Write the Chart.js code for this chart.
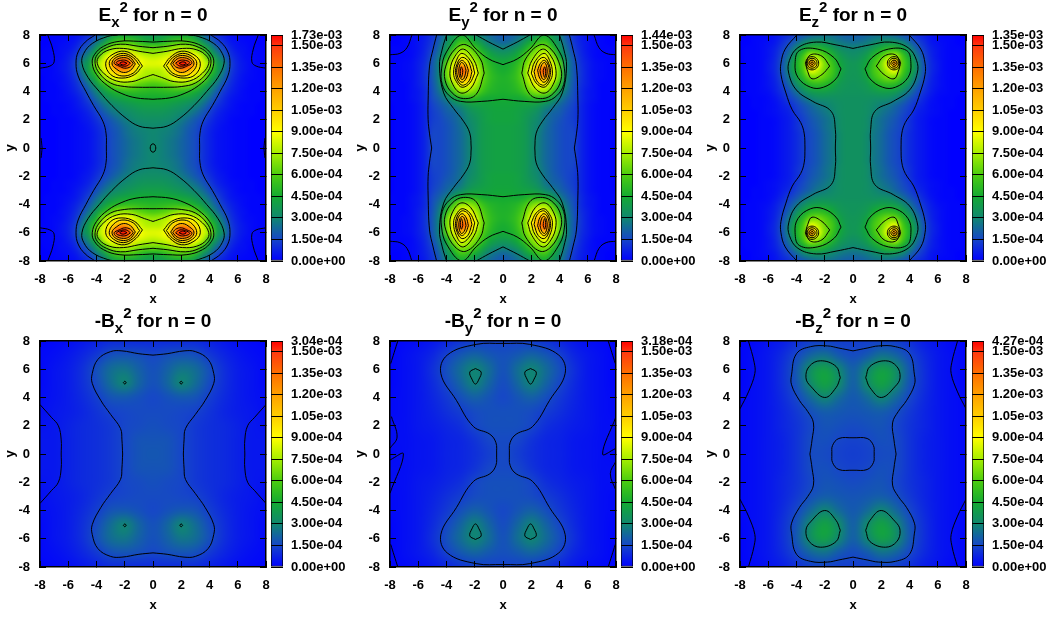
<!DOCTYPE html>
<html lang="en">
<head>
<meta charset="UTF-8">
<title>Field components for n = 0</title>
<script src="https://cdn.jsdelivr.net/npm/chart.js"></script>
<style>
    body { margin: 0; background: #fff; width: 1055px; height: 621px; position: relative; overflow: hidden; }
    canvas { position: absolute; }
    .title { position: absolute; width: 226px; text-align: center; font: bold 19px "Liberation Sans", sans-serif; color: #000; white-space: pre; }
    .title sub, .title sup { font-size: 15px; line-height: 0; position: relative; vertical-align: baseline; }
    .title sub { top: 6px; }
    .title sup { top: -9px; }
</style>
</head>
<body>
<script>
// tick labels
const axisTicks = [-8, -6, -4, -2, 0, 2, 4, 6, 8];
const barTicks = [0, 15, 30, 45, 60, 75, 90, 105, 120, 135, 150, 157.3];
const barLabels = ['0.00e+00', '1.50e-04', '3.00e-04', '4.50e-04', '6.00e-04', '7.50e-04', '9.00e-04', '1.05e-03', '1.20e-03', '1.35e-03', '1.50e-03'];
const barMax = 157.3;

// palette, value in units of 1e-5
const paletteValues = [0, 15, 30, 45, 60, 75, 90, 105, 120, 135, 150, 157.3];
const paletteColors = [[0, 0, 255], [22, 70, 200], [16, 135, 112], [20, 170, 50], [75, 205, 15], [165, 238, 0], [255, 255, 0], [255, 205, 0], [255, 160, 0], [255, 110, 0], [255, 55, 15], [255, 0, 0]];

// intensity, quarter panel x >= 0, y >= 0, rows from y = 8 down to y = 0
const gridEx = [
    [36, 37, 40, 42, 43, 42, 36, 26, 16, 10, 6, 3, 2, 1, 1, 0, 0],
    [46, 47, 52, 58, 60, 58, 50, 36, 26, 15, 10, 5, 3, 2, 1, 0, 0],
    [66, 66, 70, 76, 80, 78, 72, 55, 38, 24, 15, 8, 4, 3, 1, 1, 0],
    [78, 80, 84, 100, 110, 105, 90, 78, 50, 34, 22, 11, 6, 3, 2, 1, 1],
    [85, 86, 92, 125, 170, 150, 108, 85, 72, 40, 31, 14, 7, 4, 2, 1, 0],
    [78, 78, 84, 105, 125, 118, 98, 84, 60, 42, 27, 13, 7, 4, 2, 1, 1],
    [72, 74, 78, 88, 92, 90, 84, 72, 48, 35, 22, 11, 6, 3, 2, 1, 0],
    [58, 60, 63, 68, 72, 70, 62, 50, 38, 26, 16, 9, 5, 3, 1, 1, 0],
    [50, 51, 52, 53, 52, 50, 46, 38, 29, 20, 12, 7, 4, 2, 1, 1, 0],
    [45, 45, 45, 44, 42, 40, 36, 30, 23, 15, 9, 5, 3, 2, 1, 1, 0],
    [40, 40, 39, 37, 35, 32, 29, 24, 17, 11, 7, 4, 2, 1, 1, 0, 0],
    [36, 36, 35, 33, 31, 28, 24, 19, 13, 8, 5, 3, 2, 1, 1, 0, 0],
    [33, 33, 32, 30, 27, 23, 19, 15, 10, 6, 4, 2, 1, 1, 0, 0, 0],
    [31, 30, 29, 27, 24, 20, 17, 12, 8, 5, 3, 2, 1, 1, 0, 0, 0],
    [30, 29, 28, 26, 23, 19, 16, 11, 7, 4, 3, 2, 1, 1, 0, 0, 0],
    [30, 29, 27, 25, 22, 19, 16, 11, 7, 4, 3, 2, 1, 1, 0, 0, 0],
    [31, 29, 27, 25, 22, 19, 16, 11, 7, 4, 3, 2, 1, 1, 0, 0, 0]
];
const gridEy = [
    [18, 20, 23, 28, 32, 40, 45, 36, 29, 18, 11, 6, 3, 2, 1, 0, 0],
    [22, 24, 28, 36, 45, 54, 56, 44, 32, 21, 12, 7, 4, 2, 1, 0, 0],
    [30, 32, 37, 46, 58, 68, 72, 55, 38, 24, 14, 8, 4, 2, 1, 1, 1],
    [38, 40, 45, 56, 68, 80, 88, 72, 45, 27, 17, 9, 5, 2, 1, 1, 1],
    [44, 46, 51, 62, 78, 95, 110, 84, 62, 30, 19, 10, 6, 3, 2, 1, 1],
    [46, 48, 54, 66, 90, 125, 144, 90, 65, 30, 19, 11, 6, 3, 2, 1, 1],
    [48, 50, 55, 66, 88, 112, 120, 88, 63, 30, 19, 11, 6, 3, 2, 1, 1],
    [48, 49, 53, 62, 78, 92, 92, 72, 52, 28, 18, 10, 6, 3, 1, 1, 1],
    [47, 48, 50, 56, 66, 72, 72, 58, 38, 25, 17, 9, 5, 3, 1, 1, 1],
    [45, 45, 44, 46, 50, 50, 47, 38, 28, 21, 16, 9, 5, 3, 1, 1, 1],
    [43, 43, 42, 41, 40, 37, 31, 27, 22, 18, 14, 8, 4, 2, 1, 1, 0],
    [42, 42, 41, 39, 36, 32, 26, 22, 20, 16, 13, 8, 4, 2, 1, 1, 0],
    [42, 42, 41, 38, 34, 30, 25, 21, 18, 15, 13, 8, 4, 2, 1, 1, 0],
    [41, 41, 40, 38, 33, 29, 24, 20, 17, 15, 14, 8, 4, 2, 1, 1, 0],
    [41, 41, 40, 38, 33, 28, 23, 20, 17, 15, 15, 8, 4, 2, 1, 1, 0],
    [41, 41, 40, 38, 33, 28, 23, 20, 17, 15, 15, 8, 4, 2, 1, 1, 0],
    [41, 41, 40, 38, 33, 28, 23, 20, 17, 15, 15, 8, 4, 2, 1, 1, 0]
];
const gridEz = [
    [20, 20, 22, 24, 25, 24, 22, 18, 15, 10, 7, 4, 2, 1, 1, 0, 0],
    [24, 25, 27, 30, 33, 35, 34, 29, 22, 15, 10, 5, 3, 2, 1, 0, 0],
    [30, 31, 34, 40, 47, 52, 52, 44, 32, 21, 13, 7, 4, 2, 1, 1, 0],
    [33, 35, 40, 50, 60, 72, 78, 58, 42, 26, 16, 8, 4, 2, 1, 1, 0],
    [36, 38, 44, 56, 68, 88, 130, 62, 47, 31, 18, 9, 5, 2, 1, 1, 0],
    [36, 38, 46, 58, 66, 80, 88, 60, 46, 31, 18, 9, 5, 2, 1, 1, 0],
    [36, 37, 42, 54, 62, 68, 66, 52, 40, 27, 16, 8, 4, 2, 1, 1, 0],
    [35, 36, 38, 45, 50, 52, 50, 42, 32, 22, 13, 7, 4, 2, 1, 1, 0],
    [35, 35, 36, 38, 40, 40, 38, 32, 25, 17, 11, 6, 3, 2, 1, 1, 0],
    [34, 34, 34, 33, 33, 32, 29, 24, 18, 13, 8, 4, 2, 1, 1, 0, 0],
    [34, 34, 33, 31, 28, 26, 22, 18, 14, 9, 6, 3, 2, 1, 1, 0, 0],
    [34, 34, 33, 29, 26, 23, 20, 16, 12, 7, 5, 3, 2, 1, 0, 0, 0],
    [34, 34, 32, 27, 24, 21, 18, 14, 10, 6, 4, 2, 1, 1, 0, 0, 0],
    [34, 34, 32, 27, 24, 20, 17, 14, 10, 6, 4, 2, 1, 1, 0, 0, 0],
    [34, 34, 31, 26, 23, 19, 16, 13, 9, 6, 4, 2, 1, 1, 0, 0, 0],
    [34, 34, 31, 26, 23, 19, 16, 13, 9, 6, 4, 2, 1, 1, 0, 0, 0],
    [34, 34, 31, 26, 23, 19, 16, 13, 9, 6, 4, 2, 1, 1, 0, 0, 0]
];
const gridBx = [
    [9, 9, 9, 9, 7, 5, 3, 2, 1],
    [15, 17, 18, 17, 12, 8, 5, 3, 2],
    [17, 21, 26, 24, 17, 10, 6, 4, 2],
    [17, 22, 30, 24, 16, 10, 6, 4, 2],
    [15, 17, 19, 18, 13, 9, 6, 4, 3],
    [16, 16, 15, 14, 11, 8, 6, 5, 3],
    [17, 16, 15, 12, 10, 9, 7, 5, 4],
    [18, 18, 15, 12, 10, 9, 7, 5, 5],
    [19, 18, 15, 12, 10, 9, 7, 5, 5]
];
const gridBy = [
    [14, 14, 13, 11, 8, 5, 3, 2, 1],
    [17, 19, 22, 19, 14, 8, 5, 3, 1],
    [17, 24, 30, 24, 17, 10, 5, 3, 1],
    [16, 22, 29, 22, 15, 9, 5, 3, 1],
    [15, 18, 21, 17, 12, 8, 5, 3, 2],
    [17, 17, 16, 13, 10, 7, 5, 3, 2],
    [17, 17, 15, 10, 8, 6, 5, 3, 3],
    [16, 15, 11, 8, 7, 5, 4, 3, 3],
    [16, 13, 10, 8, 7, 5, 4, 3, 2]
];
const gridBz = [
    [13, 13, 14, 13, 10, 6, 4, 2, 1],
    [16, 19, 25, 22, 15, 9, 5, 3, 1],
    [20, 30, 41, 34, 19, 10, 5, 3, 1],
    [20, 32, 42, 32, 18, 10, 5, 3, 1],
    [19, 23, 30, 23, 15, 9, 5, 3, 2],
    [18, 19, 20, 17, 12, 8, 5, 3, 2],
    [16, 17, 18, 15, 11, 8, 5, 3, 2],
    [14, 15, 17, 16, 11, 7, 5, 3, 2],
    [13, 14, 16, 16, 11, 7, 5, 3, 2]
];

// contour lines, quarter panel, drawn in all four quadrants
const linesEx = [
    [[3.3, 0], [3.32, 1], [3.55, 1.9], [4.2, 3], [4.75, 4], [5.3, 5.1], [5.45, 6], [5.3, 6.8], [4.8, 7.5], [4.1, 8]],
    [[0, 1.4], [1, 1.55], [1.9, 2.1], [2.9, 3], [3.8, 4], [4.6, 5], [5.03, 6], [4.9, 6.7], [4.3, 7.4], [3.2, 7.9], [2.5, 8]],
    [[0, 3.45], [1.2, 3.55], [2.2, 3.85], [3.2, 4.4], [4, 5.2], [4.3, 6], [4.15, 6.6], [3.5, 7.2], [2.4, 7.55], [1, 7.55], [0, 7.5]],
    [[0, 4.3], [1, 4.3], [2, 4.35], [3, 4.6], [3.8, 5.3], [4.1, 6], [3.95, 6.6], [3.3, 7.1], [2.3, 7.35], [1, 7.2], [0, 7.1]],
    [[0, 5.2], [0.6, 5], [1.5, 4.7], [2.6, 4.75], [3.5, 5.3], [3.95, 6], [3.8, 6.5], [3.1, 6.95], [2.1, 7.05], [1, 6.85], [0, 6.7]],
    [[0.75, 5.8], [1.2, 6.4], [2, 6.85], [2.9, 6.6], [3.35, 6], [3, 5.2], [2.2, 4.95], [1.3, 5.2], [0.75, 5.8]],
    [[0.95, 5.85], [1.4, 6.4], [2.1, 6.7], [2.8, 6.45], [3.1, 6], [2.8, 5.4], [2.2, 5.1], [1.4, 5.3], [0.95, 5.85]],
    [[1.25, 5.95], [1.6, 6.4], [2.1, 6.55], [2.7, 6.35], [2.9, 5.95], [2.6, 5.6], [2.1, 5.35], [1.6, 5.5], [1.25, 5.95]],
    [[1.4, 6], [1.7, 6.3], [2.1, 6.4], [2.6, 6.25], [2.75, 6], [2.4, 5.8], [2, 5.65], [1.6, 5.75], [1.4, 6]],
    [[1.6, 6], [1.9, 6.2], [2.3, 6.2], [2.6, 6.05], [2.3, 5.85], [1.9, 5.8], [1.6, 6]],
    [[1.85, 6], [2.1, 6.1], [2.35, 6], [2.1, 5.88], [1.85, 6]],
    [[0.2, 0], [0.14, 0.22], [0, 0.3]],
    [[7.45, 8], [7.1, 7], [7, 6.1], [7.3, 5.8], [8, 5.65]],
    [[7.92, 0.7], [7.85, 0]]
];
const linesEy = [
    [[8, 6.6], [7.3, 6.7], [6.8, 7.1], [6.45, 8]],
    [[5.05, 0], [5.2, 1], [5.3, 2], [5.3, 3.4], [5.2, 5.8], [4.95, 7], [4.7, 8]],
    [[2.25, 0], [2.35, 1.05], [2.8, 1.9], [3.5, 2.8], [4.2, 3.9], [4.5, 5.8], [4.3, 7], [4, 8]],
    [[0, 7], [1, 7.5], [1.9, 8]],
    [[0, 3.45], [1.5, 3.3], [3, 3.3], [3.8, 3.7], [4.3, 4.5], [4.35, 5.6], [4, 6.8], [2.9, 8], [1.9, 7], [1, 6.3], [0, 5.9]],
    [[1.33, 5.3], [1.6, 6.3], [2.6, 7.3], [3.4, 7], [4.05, 5.8], [4.1, 4.8], [3.6, 3.9], [2.8, 3.5], [1.9, 3.8], [1.33, 5.3]],
    [[1.75, 5.3], [2.05, 6.2], [2.8, 7], [3.4, 6.5], [3.75, 5.5], [3.6, 4.6], [3, 3.9], [2.3, 4.2], [1.75, 5.3]],
    [[2, 5.3], [2.25, 6.1], [2.9, 6.7], [3.3, 6.2], [3.5, 5.3], [3.3, 4.7], [2.9, 4.3], [2.35, 4.6], [2, 5.3]],
    [[2.2, 5.4], [2.5, 6.2], [2.95, 6.4], [3.3, 5.8], [3.35, 5.2], [3.1, 4.6], [2.8, 4.45], [2.4, 4.75], [2.2, 5.4]],
    [[2.45, 5.5], [2.65, 6], [2.95, 6.2], [3.25, 5.7], [3.2, 5], [2.9, 4.65], [2.6, 4.95], [2.45, 5.5]],
    [[2.62, 5.5], [2.75, 5.9], [2.95, 6.05], [3.12, 5.6], [3.05, 5], [2.85, 4.85], [2.7, 5.1], [2.62, 5.5]],
    [[2.85, 5.5], [2.95, 5.75], [3.02, 5.4], [2.95, 5], [2.87, 5.2], [2.85, 5.5]]
];
const linesEz = [
    [[3.4, 0], [3.45, 1], [3.7, 1.8], [4.3, 2.7], [4.75, 3.9], [5.1, 5.2], [5.1, 6], [4.8, 7], [3.98, 8]],
    [[1.25, 0], [1.25, 1.3], [1.55, 2.6], [2.85, 3.3], [4, 4.1], [4.55, 5.3], [4.5, 6.2], [3.9, 7.1], [2.6, 7.5], [1.2, 7.3], [0, 7.05]],
    [[0.85, 5.6], [1.35, 6.4], [2.5, 7], [3.8, 6.9], [4.1, 6], [3.9, 5], [3, 4.3], [2.1, 4.3], [1.2, 4.9], [0.85, 5.6]],
    [[1.65, 5.8], [2.2, 6.5], [3, 6.6], [3.3, 6], [3.2, 5.4], [2.9, 4.9], [2.2, 5.2], [1.65, 5.8]],
    [[3.37, 6], [3.23, 6.33], [2.9, 6.47], [2.57, 6.33], [2.43, 6], [2.57, 5.67], [2.9, 5.53], [3.23, 5.67], [3.37, 6]],
    [[3.25, 6], [3.15, 6.25], [2.9, 6.35], [2.65, 6.25], [2.55, 6], [2.65, 5.75], [2.9, 5.65], [3.15, 5.75], [3.25, 6]],
    [[3.12, 6], [3.05, 6.15], [2.9, 6.22], [2.75, 6.15], [2.68, 6], [2.75, 5.85], [2.9, 5.78], [3.05, 5.85], [3.12, 6]],
    [[3, 6], [2.9, 6.1], [2.8, 6], [2.9, 5.9], [3, 6]]
];
const linesBx = [
    [[2.15, 0], [2.2, 1], [2.3, 1.8], [3, 2.8], [3.7, 3.8], [4.3, 5], [4.3, 5.7], [3.9, 6.7], [3, 7.25], [2.2, 7.3], [1, 7.1], [0, 7]],
    [[2.1, 5.05], [2, 5.15], [1.9, 5.05], [2, 4.95], [2.1, 5.05]],
    [[8, 3.5], [7.2, 2.6], [6.7, 2], [6.5, 1], [6.5, 0]]
];
const linesBy = [
    [[0.45, 0], [0.5, 0.8], [0.93, 1.4], [2.1, 1.95], [3.3, 3.8], [4.4, 5.7], [3.95, 7], [1.9, 7.76], [0, 7.83]],
    [[1.95, 6.05], [2.35, 5.8], [2.2, 5.3], [1.95, 4.95], [1.7, 5.3], [1.55, 5.8], [1.95, 6.05]],
    [[7.45, 8], [7.7, 7.2], [7.95, 6.4]]
];
const linesBz = [
    [[3.05, 0], [2.9, 1], [2.8, 2.2], [3.2, 3], [3.8, 3.8], [4.35, 4.9], [4.35, 5.6], [4, 7.1], [3, 7.6], [1.8, 7.65], [1, 7.5], [0, 7.3]],
    [[1.5, 0], [1.45, 0.6], [1, 1.1], [0, 1.15]],
    [[0.9, 5.4], [1.2, 6.2], [2.3, 6.6], [3.1, 6.2], [3.33, 5.4], [3, 4.8], [2, 4], [1.2, 4.7], [0.9, 5.4]],
    [[7.4, 8], [7, 6.5], [6.95, 5.7], [7.4, 4.4], [8, 3.2]]
];
// the By panel is not mirror symmetric at its side edges
const edgeLinesBy = [
    [[-7.9, 2.65], [-7.5, 1.2], [-8, 0.4]],
    [[-8, -0.42], [-7.05, 0], [-8, -2.78]],
    [[8, 2.65], [7.05, 0], [8, 0.4]],
    [[8, -0.5], [7.6, -1.4], [8, -2.6]]
];

const panelNames = ['Ex', 'Ey', 'Ez', 'Bx', 'By', 'Bz'];
const panelTitles = [['E', 'x'], ['E', 'y'], ['E', 'z'], ['-B', 'x'], ['-B', 'y'], ['-B', 'z']];
const panelGrids = [gridEx, gridEy, gridEz, gridBx, gridBy, gridBz];
const panelLines = [linesEx, linesEy, linesEz, linesBx, linesBy, linesBz];
const panelEdgeLines = [[], [], [], [], edgeLinesBy, []];
const topLabels = ['1.73e-03', '1.44e-03', '1.35e-03', '3.04e-04', '3.18e-04', '4.27e-04'];

const columnLeft = [0, 350, 700];
const rowTop = [25, 331];
const font = { family: '"Liberation Sans", sans-serif', size: 13, weight: 'bold' };

function colorFor(v) {
    let i = 0;
    while (i < paletteValues.length - 2 && v > paletteValues[i + 1]) i++;
    let t = (v - paletteValues[i]) / (paletteValues[i + 1] - paletteValues[i]);
    t = Math.min(1, Math.max(0, t));
    return paletteColors[i].map((c, k) => Math.round(c + (paletteColors[i + 1][k] - c) * t));
}

// paints the grid as one small image, stretched onto the scales
const heatPlugin = {
    id: 'heat',
    beforeDatasetsDraw(chart, args, opts) {
        let quarter = opts.grid;
        let n = quarter.length;
        let size = 2 * n - 1;
        let step = 8 / (n - 1);
        let img = document.createElement('canvas');
        img.width = size;
        img.height = size;
        let ictx = img.getContext('2d');
        let data = ictx.createImageData(size, size);
        for (let j = 0; j < size; j++) {
            for (let i = 0; i < size; i++) {
                let row = quarter[j < n ? j : size - 1 - j];
                let rgb = colorFor(row[Math.abs(i - (n - 1))]);
                let p = (j * size + i) * 4;
                data.data[p] = rgb[0];
                data.data[p + 1] = rgb[1];
                data.data[p + 2] = rgb[2];
                data.data[p + 3] = 255;
            }
        }
        ictx.putImageData(data, 0, 0);

        let { ctx, chartArea, scales } = chart;
        let left = scales.x.getPixelForValue(-8 - step / 2);
        let right = scales.x.getPixelForValue(8 + step / 2);
        let top = scales.y.getPixelForValue(8 + step / 2);
        let bottom = scales.y.getPixelForValue(-8 - step / 2);
        ctx.save();
        ctx.beginPath();
        ctx.rect(chartArea.left, chartArea.top, chartArea.width, chartArea.height);
        ctx.clip();
        ctx.imageSmoothingEnabled = true;
        ctx.imageSmoothingQuality = 'high';
        ctx.drawImage(img, left, top, right - left, bottom - top);
        ctx.restore();
    }
};

function lineDataset(points) {
    return {
        data: points.map(p => ({ x: p[0], y: p[1] })),
        showLine: true,
        borderColor: '#000',
        borderWidth: 1,
        tension: 0.4,
        pointRadius: 0
    };
}

function frameAxis(position, min, max, extra) {
    return Object.assign({
        type: 'linear',
        position: position,
        min: min,
        max: max,
        afterBuildTicks: s => { s.ticks = axisTicks.map(v => ({ value: v })); },
        grid: { drawOnChartArea: false, tickLength: -6, color: '#000', z: 1 },
        border: { display: true, color: '#000', width: 1.5, z: 1 },
        ticks: { display: false }
    }, extra);
}

function addCanvas(left, top, w, h) {
    let c = document.createElement('canvas');
    c.width = w;
    c.height = h;
    c.style.left = left + 'px';
    c.style.top = top + 'px';
    document.body.appendChild(c);
    return c;
}

panelNames.forEach((name, p) => {
    let left = columnLeft[p % 3];
    let top = rowTop[Math.floor(p / 3)];

    // contour lines
    let datasets = [];
    panelLines[p].forEach(line => {
        [[1, 1], [-1, 1], [1, -1], [-1, -1]].forEach(s => {
            datasets.push(lineDataset(line.map(q => [q[0] * s[0], q[1] * s[1]])));
        });
    });
    panelEdgeLines[p].forEach(line => datasets.push(lineDataset(line)));

    new Chart(addCanvas(left, top, 275, 285), {
        type: 'scatter',
        data: { datasets: datasets },
        plugins: [heatPlugin],
        options: {
            responsive: false,
            animation: false,
            events: [],
            layout: { padding: { top: 10, right: 9, left: 0, bottom: 0 } },
            plugins: { legend: { display: false }, tooltip: { enabled: false }, heat: { grid: panelGrids[p] } },
            scales: {
                x: frameAxis('bottom', -8, 8, {
                    ticks: { font: font, color: '#000', padding: 17, maxRotation: 0, autoSkip: false },
                    title: { display: true, text: 'x', font: font, color: '#000', padding: { top: 0, bottom: 3 } },
                    afterFit: s => { s.height = 49; s.paddingLeft = 0; s.paddingRight = 0; }
                }),
                y: frameAxis('left', -8, 8, {
                    ticks: { font: font, color: '#000', padding: 16, autoSkip: false },
                    title: { display: true, text: 'y', font: font, color: '#000', padding: { top: 3, bottom: 0 } },
                    afterFit: s => { s.width = 40; s.paddingTop = 0; s.paddingBottom = 0; }
                }),
                x2: frameAxis('top', -8, 8, { afterFit: s => { s.height = 0; } }),
                y2: frameAxis('right', -8, 8, { afterFit: s => { s.width = 0; } })
            }
        }
    });

    // colour bar
    let tickLabels = barLabels.concat(topLabels[p]);
    new Chart(addCanvas(left + 270 + (p % 3 == 2 ? 1 : 0), top, 81, 285), {
        type: 'bar',
        data: {
            labels: [''],
            datasets: [{
                data: [barMax],
                barPercentage: 1,
                categoryPercentage: 1,
                borderColor: '#000',
                borderWidth: 1,
                borderSkipped: false,
                backgroundColor: c => {
                    let { chart } = c;
                    if (!chart.chartArea) return '#00f';
                    let y = chart.scales.y;
                    let g = chart.ctx.createLinearGradient(0, y.getPixelForValue(0), 0, y.getPixelForValue(barMax));
                    paletteValues.forEach((v, i) => g.addColorStop(v / barMax, 'rgb(' + paletteColors[i].join(',') + ')'));
                    return g;
                }
            }]
        },
        options: {
            responsive: false,
            animation: false,
            events: [],
            layout: { padding: { top: 10, right: 0, left: 1, bottom: 49 } },
            plugins: { legend: { display: false }, tooltip: { enabled: false } },
            scales: {
                x: { display: false },
                y: {
                    position: 'right',
                    min: 0,
                    max: barMax,
                    afterBuildTicks: s => { s.ticks = barTicks.map(v => ({ value: v })); },
                    afterFit: s => { s.width = 68; s.paddingTop = 0; s.paddingBottom = 0; },
                    grid: { color: '#000', drawTicks: false, z: 1 },
                    border: { display: false },
                    ticks: {
                        font: font,
                        color: '#000',
                        padding: 8,
                        autoSkip: false,
                        callback: (v, i) => tickLabels[i]
                    }
                }
            }
        }
    });

    // title, with gnuplot style sub and superscript
    let t = document.createElement('div');
    t.className = 'title';
    t.style.left = (left + 40) + 'px';
    t.style.top = (top - 21) + 'px';
    t.innerHTML = panelTitles[p][0] + '<sub>' + panelTitles[p][1] + '</sub><sup>2</sup> for n = 0';
    document.body.appendChild(t);
});
</script>
</body>
</html>
